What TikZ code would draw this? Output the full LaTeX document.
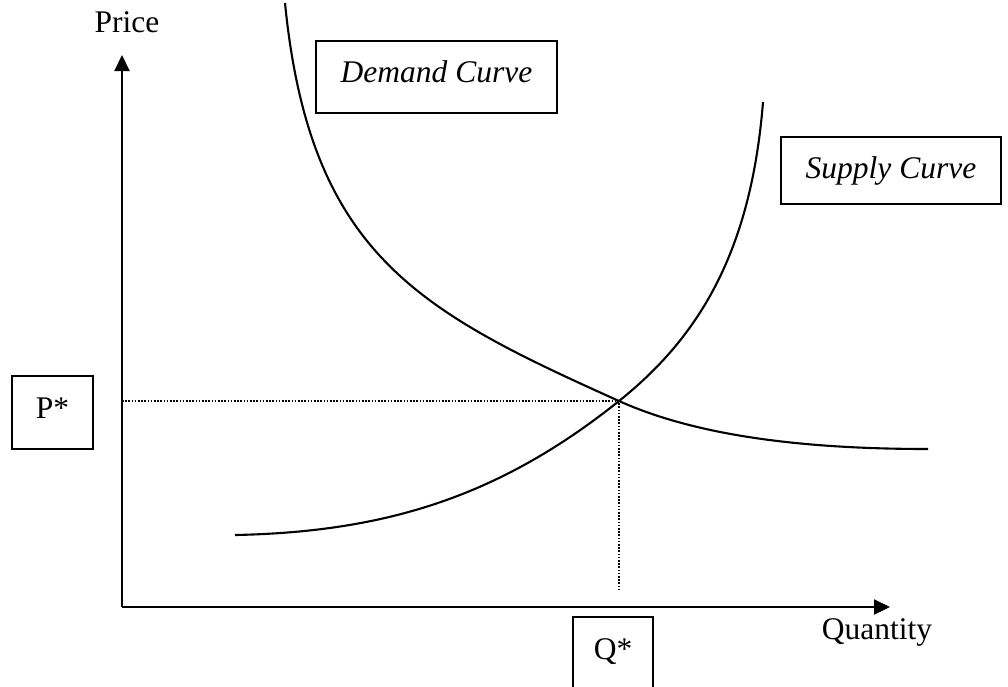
\documentclass[tikz,border=0pt]{standalone}
\usepackage{fontspec}
\setmainfont{Liberation Serif}
\usetikzlibrary{arrows.meta}
\begin{document}
\begin{tikzpicture}[x=1pt,y=-1pt,
  axis/.style={line width=2.2pt,-{Triangle[width=15pt,length=16pt]}},
  curve/.style={line width=2.1pt},
  guide/.style={line width=1.6pt,dash pattern=on 1.6pt off 1.6pt},
  labelbox/.style={draw,line width=2pt,inner sep=0pt,font=\fontsize{31.5}{36}\selectfont},
  plain/.style={inner sep=0pt,font=\fontsize{31.5}{36}\selectfont}]
\useasboundingbox (0,0) rectangle (1008,686);
\clip (0,0) rectangle (1008,686);
\coordinate (O) at (122,607);
\coordinate (ytip) at (122,55);
\coordinate (xtip) at (890,607);
\coordinate (E) at (619,401);
\coordinate (Ey) at (122,401);
\coordinate (Ex) at (619,590);
\coordinate (D0) at (285,3);
\coordinate (D1) at (928,449);
\coordinate (S0) at (235,535);
\coordinate (S1) at (763,102);
\draw[axis] (O) -- (ytip);
\draw[axis] (O) -- (xtip);
\node[plain] (price) at (127,22) {Price};
\node[plain] (qty) at (877,632) {Quantity};
\draw[guide] (Ey) -- (E) -- (Ex);
\draw[curve] (D0) .. controls (310,255) and (419,311) .. (E)
  .. controls (699,437) and (808,449) .. (D1);
\draw[curve] (S0) .. controls (385,532) and (499,497) .. (E)
  .. controls (699,337) and (751,252) .. (S1);
\node[labelbox,minimum width=241pt,minimum height=72pt,text depth=10pt] (dem) at (436.5,77) {\itshape Demand Curve};
\node[labelbox,minimum width=220pt,minimum height=67pt] (sup) at (891,170.5) {\itshape Supply Curve};
\node[labelbox,minimum width=81pt,minimum height=73pt,text depth=8pt] (pstar) at (52.5,412.5) {P*};
\node[labelbox,minimum width=80pt,minimum height=73pt,text depth=8pt] (qstar) at (613,653.5) {Q*};
\end{tikzpicture}
\end{document}
